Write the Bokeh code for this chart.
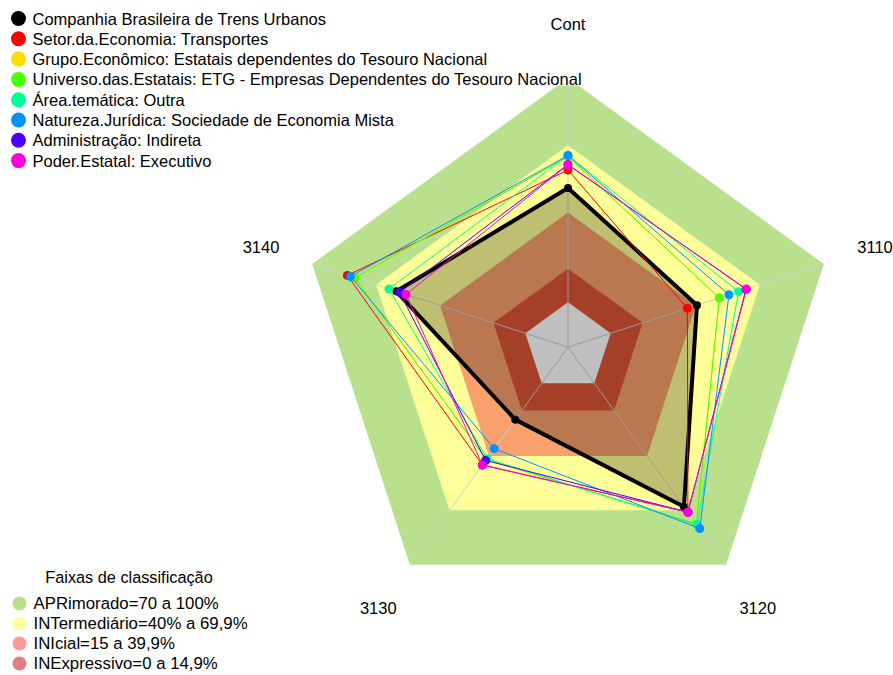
import math
from bokeh.plotting import figure
from bokeh.models import Range1d
from bokeh.core.properties import value
from bokeh.embed import file_html
from bokeh.resources import INLINE

# ---------------- data ----------------
axis_labels = ["Cont", "3110", "3120", "3130", "3140"]

series_names = [
    "Companhia Brasileira de Trens Urbanos",
    "Setor.da.Economia: Transportes",
    "Grupo.Econômico: Estatais dependentes do Tesouro Nacional",
    "Universo.das.Estatais: ETG - Empresas Dependentes do Tesouro Nacional",
    "Área.temática: Outra",
    "Natureza.Jurídica: Sociedade de Economia Mista",
    "Administração: Indireta",
    "Poder.Estatal: Executivo",
]
series_colors = ["#000000", "#FF0000", "#FFDB00", "#49FF00",
                 "#00FF92", "#0092FF", "#4900FF", "#FF00DB"]

companhia = [51.0, 40.5, 68.0, 20.0, 60.5]
setor = [59.0, 36.0, 71.0, 45.0, 83.5]
grupo = [65.0, 51.0, 77.5, 42.0, 80.0]
universo = [65.0, 51.0, 77.5, 42.0, 80.0]
area = [65.5, 60.0, 78.0, 41.5, 64.0]
natureza = [65.5, 55.5, 80.0, 36.0, 82.0]
administracao = [61.5, 63.5, 71.0, 42.5, 59.0]
poder = [61.3, 63.7, 71.0, 45.0, 56.0]
series_values = [companhia, setor, grupo, universo, area, natureza,
                 administracao, poder]

band_title = "Faixas de classificação"
band_labels = ["APRimorado=70 a 100%", "INTermediário=40% a 69,9%",
               "INIcial=15 a 39,9%", "INExpressivo=0 a 14,9%"]
band_limits = [100, 70, 40, 15, 0]
band_colors = ["#B9E08D", "#FFFF99", "#F9A16C", "#DD5535", "#FFFFFF"]
band_legend_colors = ["#B9E08D", "#FFFF99", "#FF9999", "#E08080"]

# ---------------- layout ----------------
W, H = 893, 675
R = 269.0                 # pixels per radar unit
CXP, CYP = 567.5, 346.6   # centre in page px
CLIP_PY = 85              # plot region top (page px)

def X(px):
    return (px - CXP) / R

def Y(py):
    return (CYP - py) / R

clip_y = Y(CLIP_PY)

def rad(v):
    return 1.0 / 6.0 + 5.0 / 6.0 * v / 100.0

n = len(axis_labels)
ang = [math.radians(90 - 72 * k) for k in range(n)]

def polar(vals):
    xs = [rad(v) * math.cos(a) for v, a in zip(vals, ang)]
    ys = [rad(v) * math.sin(a) for v, a in zip(vals, ang)]
    return xs, ys

def clip_top(xs, ys, yc):
    ox, oy = [], []
    m = len(xs)
    for i in range(m):
        x1, y1 = xs[i], ys[i]
        x2, y2 = xs[(i + 1) % m], ys[(i + 1) % m]
        in1, in2 = y1 <= yc, y2 <= yc
        if in1:
            ox.append(x1); oy.append(y1)
        if in1 != in2:
            t = (yc - y1) / (y2 - y1)
            ox.append(x1 + t * (x2 - x1)); oy.append(yc)
    return ox, oy

p = figure(width=W, height=H, x_range=Range1d(X(0), X(W)),
           y_range=Range1d(Y(H), Y(0)), output_backend="svg",
           toolbar_location=None, min_border=0)
p.axis.visible = False
p.grid.visible = False
p.outline_line_color = None
p.background_fill_color = "white"
p.border_fill_color = "white"

FONT = value("Liberation Sans")

# bands
for lim, col in zip(band_limits, band_colors):
    bx, by = polar([lim] * n)
    bx, by = clip_top(bx, by, clip_y)
    p.patch(bx, by, fill_color=col, line_color=None)

# spokes
sx = [[0, math.cos(a) * 1.0] for a in ang]
sy = [[0, min(math.sin(a) * 1.0, clip_y)] for a in ang]
p.multi_line(sx, sy, line_color="#CFCFCF", line_width=1)

# company polygon fill
cx_, cy_ = polar(companhia)
p.patch(cx_, cy_, fill_color="black", fill_alpha=0.25, line_color=None)

# series
for i, (vals, col) in enumerate(zip(series_values, series_colors)):
    xs, ys = polar(vals)
    lw = 4 if i == 0 else 1
    p.line(xs + xs[:1], ys + ys[:1], line_color=col, line_width=lw,
           line_join="round")
    p.scatter(xs, ys, marker="circle", size=8 if i == 0 else 9,
              fill_color=col, line_color=None)

# axis labels
lx = [1.2 * math.cos(a) for a in ang]
ly = [1.2 * math.sin(a) for a in ang]
p.text(lx, ly, text=axis_labels, text_font=FONT, text_font_size="16.5px",
       text_align="center", text_baseline="middle", text_color="#000000")

# top legend
rows = [18 + 20.3 * i for i in range(len(series_names))]
p.scatter([X(18)] * len(rows), [Y(r) for r in rows], marker="circle", size=15,
          fill_color=series_colors, line_color=None)
p.text([X(32)] * len(rows), [Y(r) for r in rows], text=series_names,
       text_font=FONT, text_font_size="16.5px", text_align="left",
       text_baseline="middle", text_color="#000000")

# bottom legend
p.text([X(128.5)], [Y(576)], text=[band_title], text_font=FONT,
       text_font_size="16.3px", text_align="center", text_baseline="middle",
       text_color="#000000")
brows = [603 + 20 * i for i in range(len(band_labels))]
p.scatter([X(19)] * len(brows), [Y(r) for r in brows], marker="circle",
          size=14, fill_color=band_legend_colors, line_color=None)
p.text([X(33)] * len(brows), [Y(r) for r in brows], text=band_labels,
       text_font=FONT, text_font_size="16.8px", text_align="left",
       text_baseline="middle", text_color="#000000")

open("out.html", "w").write(file_html(p, INLINE))
